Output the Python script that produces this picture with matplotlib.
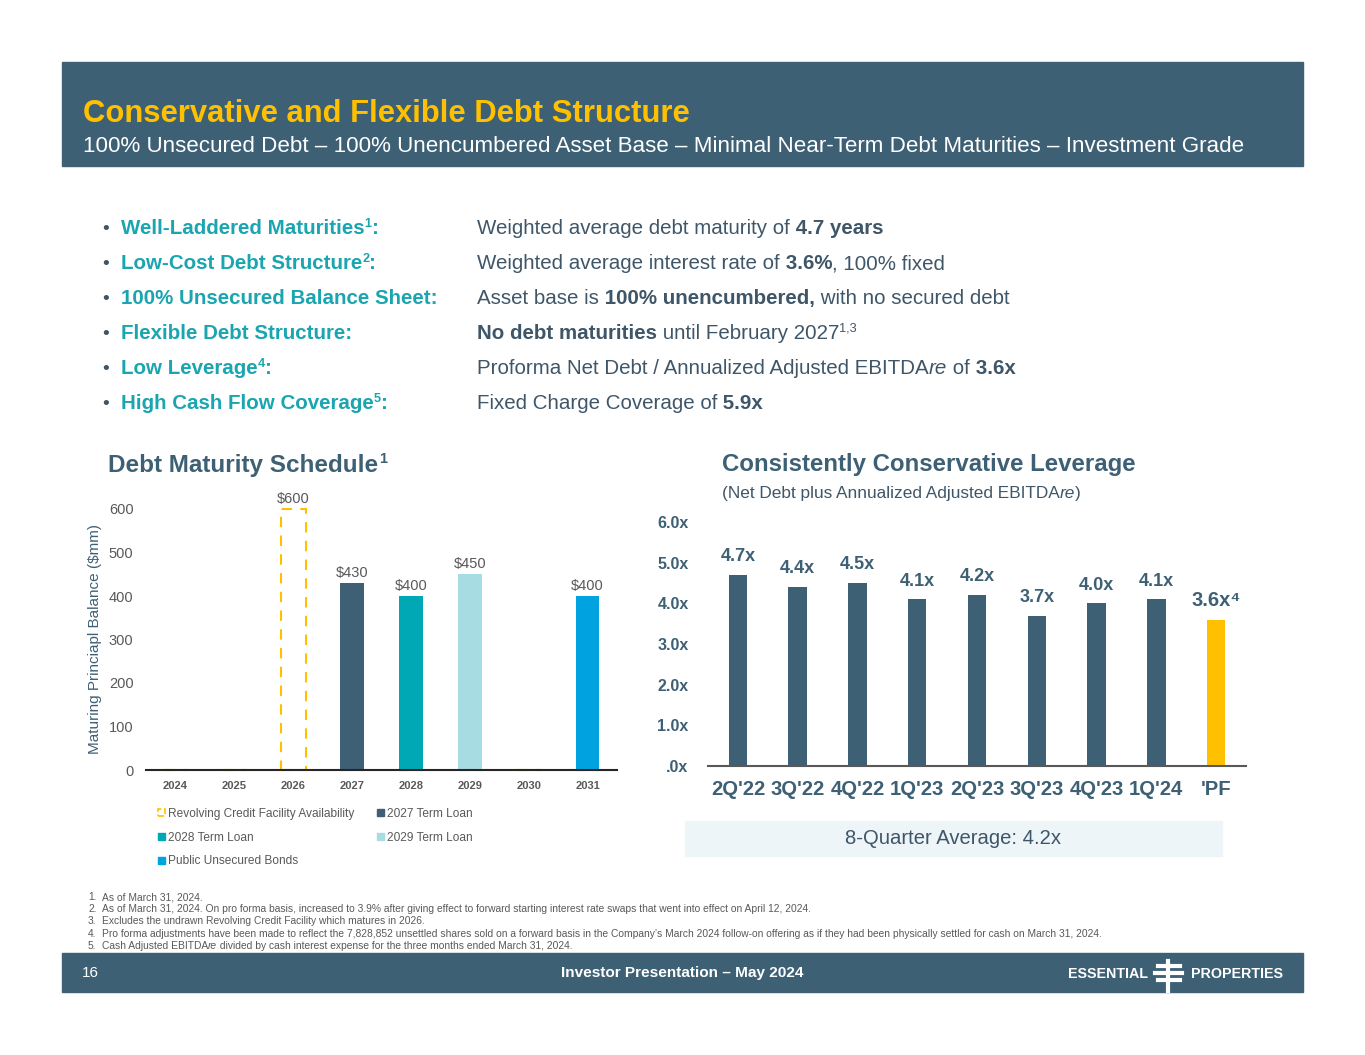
import matplotlib
matplotlib.use("Agg")
import matplotlib.pyplot as plt
from matplotlib.patches import Rectangle, Patch
from matplotlib.lines import Line2D

plt.rcParams['font.family'] = ['Liberation Sans', 'DejaVu Sans']

# ---- data ----
debt_years = ['2024', '2025', '2026', '2027', '2028', '2029', '2030', '2031']
revolver_avail = [0, 0, 600, 0, 0, 0, 0, 0]
term_2027 = [0, 0, 0, 430, 0, 0, 0, 0]
term_2028 = [0, 0, 0, 0, 400, 0, 0, 0]
term_2029 = [0, 0, 0, 0, 0, 450, 0, 0]
public_bonds = [0, 0, 0, 0, 0, 0, 0, 400]
debt_ticks = [0, 100, 200, 300, 400, 500, 600]

quarters = ["2Q'22", "3Q'22", "4Q'22", "1Q'23", "2Q'23", "3Q'23", "4Q'23", "1Q'24", "'PF"]
leverage = [4.7, 4.4, 4.5, 4.1, 4.2, 3.7, 4.0, 4.1, 3.6]
lev_ticks = [0, 1, 2, 3, 4, 5, 6]
lev_ticklabels = ['.0x', '1.0x', '2.0x', '3.0x', '4.0x', '5.0x', '6.0x']
avg_label = '8-Quarter Average: 4.2x'

# ---- colours ----
SLATE = '#3D6075'
BODY = '#3F5669'
TEAL = '#1AA5B0'
GOLD = '#FFC000'
GREY = '#595959'
c2027 = '#3D6075'
c2028 = '#00A8B5'
c2029 = '#A8DCE3'
cbond = '#00A3E0'

W, H = 1365, 1055
fig = plt.figure(figsize=(W / 100, H / 100), dpi=100)
fig.patch.set_facecolor('white')
renderer = fig.canvas.get_renderer()


def fx(x):
    return x / W


def fy(y):
    return 1 - y / H


def rich(x, y, parts, size, color):
    # parts: (text, weight, style, colour or None, superscript)
    for text, weight, style, col, sup in parts:
        s = size * 0.62 if sup else size
        yy = y - size * 0.5 if sup else y
        t = fig.text(fx(x), fy(yy), text, fontsize=s, fontweight=weight,
                     fontstyle=style, color=col or color, va='baseline', ha='left')
        x += t.get_window_extent(renderer).width


# ---- header band ----
fig.patches.append(Rectangle((fx(62), fy(166)), fx(1303) - fx(62), fy(62) - fy(166),
                             transform=fig.transFigure, color=SLATE, zorder=0))
fig.text(fx(83), fy(122), 'Conservative and Flexible Debt Structure', fontsize=22.3,
         fontweight='bold', color=GOLD, va='baseline')
fig.text(fx(83), fy(152), '100% Unsecured Debt \u2013 100% Unencumbered Asset Base \u2013 '
         'Minimal Near-Term Debt Maturities \u2013 Investment Grade', fontsize=16.1,
         color='white', va='baseline')

# ---- bullets ----
labels = [
    [('Well-Laddered Maturities', 'bold', 'normal', None, False), ('1', 'bold', 'normal', None, True), (':', 'bold', 'normal', None, False)],
    [('Low-Cost Debt Structure', 'bold', 'normal', None, False), ('2', 'bold', 'normal', None, True), (':', 'bold', 'normal', None, False)],
    [('100% Unsecured Balance Sheet:', 'bold', 'normal', None, False)],
    [('Flexible Debt Structure:', 'bold', 'normal', None, False)],
    [('Low Leverage', 'bold', 'normal', None, False), ('4', 'bold', 'normal', None, True), (':', 'bold', 'normal', None, False)],
    [('High Cash Flow Coverage', 'bold', 'normal', None, False), ('5', 'bold', 'normal', None, True), (':', 'bold', 'normal', None, False)],
]
values = [
    [('Weighted average debt maturity of', 'normal', 'normal', None, False), (' 4.7 years', 'bold', 'normal', None, False)],
    [('Weighted average interest rate of', 'normal', 'normal', None, False), (' 3.6%', 'bold', 'normal', None, False), (', 100% fixed', 'normal', 'normal', None, False)],
    [('Asset base is', 'normal', 'normal', None, False), (' 100% unencumbered,', 'bold', 'normal', None, False), (' with no secured debt', 'normal', 'normal', None, False)],
    [('No debt maturities', 'bold', 'normal', None, False), (' until February 2027', 'normal', 'normal', None, False), ('1,3', 'normal', 'normal', None, True)],
    [('Proforma Net Debt / Annualized Adjusted EBITDA', 'normal', 'normal', None, False), ('re', 'normal', 'italic', None, False), (' of', 'normal', 'normal', None, False), (' 3.6x', 'bold', 'normal', None, False)],
    [('Fixed Charge Coverage of', 'normal', 'normal', None, False), (' 5.9x', 'bold', 'normal', None, False)],
]
for i in range(6):
    yb = 234 + 35 * i
    fig.text(fx(102), fy(yb), '\u2022', fontsize=14, color=BODY, va='baseline')
    rich(121, yb, labels[i], 14.8, TEAL)
    rich(477, yb, values[i], 14.8, BODY)

# ---- left chart: debt maturity ----
t = fig.text(fx(108), fy(472), 'Debt Maturity Schedule', fontsize=17.5, fontweight='bold',
             color=SLATE, va='baseline')
wt = t.get_window_extent(renderer).width
fig.text(fx(108 + wt + 1), fy(463), '1', fontsize=10.5, fontweight='bold', color=SLATE, va='baseline')

ax1 = fig.add_axes([fx(146), fy(770), fx(617) - fx(146), fy(509) - fy(770)])
xs = range(len(debt_years))
ax1.bar(xs, revolver_avail, width=0.42, facecolor='none', edgecolor=GOLD,
        linestyle=(0, (5, 4)), linewidth=1.5, label='Revolving Credit Facility Availability', clip_on=False)
ax1.bar(xs, term_2027, width=0.4, color=c2027, label='2027 Term Loan')
ax1.bar(xs, term_2028, width=0.4, color=c2028, label='2028 Term Loan')
ax1.bar(xs, term_2029, width=0.4, color=c2029, label='2029 Term Loan')
ax1.bar(xs, public_bonds, width=0.4, color=cbond, label='Public Unsecured Bonds')
for series in [revolver_avail, term_2027, term_2028, term_2029, public_bonds]:
    for i, v in enumerate(series):
        if v:
            ax1.annotate('$%d' % v, (i, v), xytext=(0, 2), textcoords='offset points',
                         ha='center', va='bottom', fontsize=10.5, color=GREY)
ax1.set_xlim(-0.5, len(debt_years) - 0.5)
ax1.set_ylim(0, 600)
ax1.set_yticks(debt_ticks)
ax1.set_xticks(list(xs))
ax1.set_xticklabels(debt_years, fontsize=8, fontweight='bold', color=GREY)
ax1.tick_params(axis='y', length=0, labelsize=10.5, labelcolor=GREY, pad=9)
ax1.tick_params(axis='x', length=0, pad=8)
for s in ['top', 'right', 'left']:
    ax1.spines[s].set_visible(False)
ax1.spines['bottom'].set_color('#262626')
ax1.spines['bottom'].set_linewidth(1.5)
ax1.set_ylabel('Maturing Princiapl Balance ($mm)', fontsize=11, color=SLATE)
ax1.yaxis.set_label_coords(-0.093, 0.5)
ax1.patch.set_alpha(0)

# legend filled row by row like the slide
handles = [
    Patch(facecolor='none', edgecolor=GOLD, linestyle='--', linewidth=1.2),
    Patch(color=c2028), Patch(color=cbond), Patch(color=c2027), Patch(color=c2029)]
names = ['Revolving Credit Facility Availability', '2028 Term Loan', 'Public Unsecured Bonds',
         '2027 Term Loan', '2029 Term Loan']
fig.legend(handles, names, loc='upper left', bbox_to_anchor=(fx(158), fy(808)), ncol=2,
           frameon=False, fontsize=8.6, labelcolor=GREY, handlelength=0.55, handleheight=0.55,
           handletextpad=0.25, columnspacing=1.95, labelspacing=0.98, borderpad=0, borderaxespad=0)

# ---- right chart: leverage ----
fig.text(fx(722), fy(471), 'Consistently Conservative Leverage', fontsize=17.3,
         fontweight='bold', color=SLATE, va='baseline')
rich(722, 498, [('(Net Debt plus Annualized Adjusted EBITDA', 'normal', 'normal', None, False),
                ('re', 'normal', 'italic', None, False), (')', 'normal', 'normal', None, False)],
     12.4, BODY)

ax2 = fig.add_axes([fx(708), fy(766), fx(1246) - fx(708), fy(522) - fy(766)])
qx = range(len(quarters))
bar_cols = [SLATE] * (len(quarters) - 1) + [GOLD]
ax2.bar(qx, leverage, width=0.31, color=bar_cols)
for i, v in enumerate(leverage):
    last = i == len(leverage) - 1
    ax2.annotate('%.1fx' % v + ('\u2074' if last else ''), (i, v), xytext=(0, 7),
                 textcoords='offset points', ha='center', va='bottom',
                 fontsize=14.5 if last else 13, fontweight='bold', color=SLATE)
ax2.set_xlim(-0.5, len(quarters) - 0.5)
ax2.set_ylim(0, 6)
ax2.set_yticks(lev_ticks)
ax2.set_yticklabels(lev_ticklabels, fontsize=11.5, fontweight='bold', color=SLATE)
ax2.set_xticks(list(qx))
ax2.set_xticklabels(quarters, fontsize=14.6, fontweight='bold', color=SLATE)
ax2.tick_params(axis='y', length=0, pad=14)
ax2.tick_params(axis='x', length=0, pad=10)
for s in ['top', 'right', 'left']:
    ax2.spines[s].set_visible(False)
ax2.spines['bottom'].set_color(GREY)
ax2.spines['bottom'].set_linewidth(1.5)
ax2.patch.set_alpha(0)

fig.patches.append(Rectangle((fx(685), fy(856)), fx(1222) - fx(685), fy(821) - fy(856),
                             transform=fig.transFigure, color='#EEF5F8', zorder=0))
fig.text(fx(953), fy(839), avg_label, fontsize=14.6, color=BODY, ha='center', va='center')

# ---- footnotes ----
notes = [
    'As of March 31, 2024.',
    'As of March 31, 2024. On pro forma basis, increased to 3.9% after giving effect to forward starting interest rate swaps that went into effect on April 12, 2024.',
    'Excludes the undrawn Revolving Credit Facility which matures in 2026.',
    'Pro forma adjustments have been made to reflect the 7,828,852 unsettled shares sold on a forward basis in the Company\u2019s March 2024 follow-on offering as if they had been physically settled for cash on March 31, 2024.',
    None,
]
for i in range(5):
    yb = 900 + 12.2 * i
    fig.text(fx(88), fy(yb), '%d.' % (i + 1), fontsize=7.4, color=GREY, va='baseline')
    if notes[i]:
        fig.text(fx(102), fy(yb), notes[i], fontsize=7.4, color=GREY, va='baseline')
    else:
        rich(102, yb, [('Cash Adjusted EBITDA', 'normal', 'normal', None, False),
                       ('re', 'normal', 'italic', None, False),
                       (' divided by cash interest expense for the three months ended March 31, 2024.', 'normal', 'normal', None, False)],
             7.4, GREY)

# ---- footer band ----
fig.patches.append(Rectangle((fx(62), fy(992)), fx(1303) - fx(62), fy(953) - fy(992),
                             transform=fig.transFigure, color=SLATE, zorder=0))
fig.text(fx(82), fy(973), '16', fontsize=11, color='white', va='center')
fig.text(fx(682), fy(973), 'Investor Presentation \u2013 May 2024', fontsize=11.1,
         fontweight='bold', color='white', ha='center', va='center')
fig.text(fx(1148), fy(974), 'ESSENTIAL', fontsize=10.3, fontweight='bold', color='white',
         ha='right', va='center')
fig.text(fx(1191), fy(974), 'PROPERTIES', fontsize=10.3, fontweight='bold', color='white',
         ha='left', va='center')
fig.add_artist(Line2D([fx(1168), fx(1168)], [fy(961), fy(991)], color='white', lw=3,
                      transform=fig.transFigure))
for yy, x0, x1 in [(966, 1158, 1180), (973, 1155, 1182), (980, 1158, 1180)]:
    fig.add_artist(Line2D([fx(x0), fx(x1)], [fy(yy), fy(yy)], color='white', lw=3,
                          transform=fig.transFigure))

fig.savefig('out.png', dpi=100, facecolor='white')
